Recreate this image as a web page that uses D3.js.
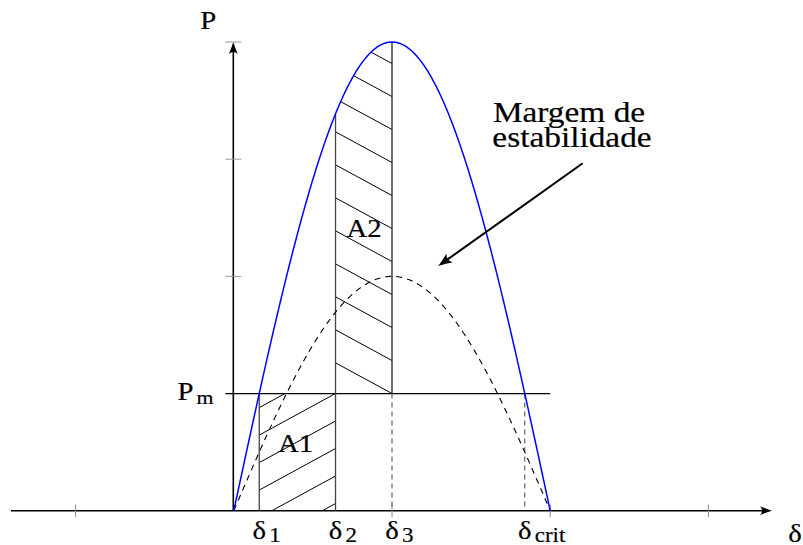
<!DOCTYPE html>
<html>
<head>
<meta charset="utf-8">
<script src="https://cdn.jsdelivr.net/npm/d3@7"></script>
<style>
  html, body { margin: 0; padding: 0; background: #fff; }
  svg { display: block; }
  text { font-family: "Liberation Serif", "Times New Roman", serif; fill: #000; stroke: #000; stroke-width: 0.2px; }
</style>
</head>
<body>
<svg id="chart" width="803" height="545"></svg>
<script>
// Power-angle curves (equal-area criterion)
const curveAmplitudes = [4, 2];          // P max of the post-fault (blue) and faulted (dashed) curves
const curveNames = ["postFault", "fault"];
const mechanicalPower = 1;                // Pm
const delta2 = 1.01;                      // clearing angle, rad
const powerTicks = [1, 2, 3, 4];
const deltaTicks = [-Math.PI / 2, Math.PI / 2, Math.PI, 3 * Math.PI / 2];
const deltaLabels = ["1", "2", "3", "crit"];
const areaLabels = ["A1", "A2"];
const noteLines = ["Margem de", "estabilidade"];

const svg = d3.select("#chart");

const x = d3.scaleLinear().domain([0, Math.PI]).range([233.8, 550.2]);
const y = d3.scaleLinear().domain([0, 4]).range([510.7, 42]);
const axisX = 233.3;

const Pmax = curveAmplitudes[0];
const delta1 = Math.asin(mechanicalPower / Pmax);
const delta3 = Math.PI / 2;
const deltaCrit = Math.PI - delta1;
const deltaMarks = [delta1, delta2, delta3, deltaCrit];

const samples = d3.range(0, 401).map(i => i / 400 * Math.PI);
const curvePoints = amp => samples.map(d => [d, amp * Math.sin(d)]);
const line = d3.line().x(d => x(d[0])).y(d => y(d[1]));

// arrow head shape (tip at origin, pointing +x)
function arrowHead(len, half) {
  return `M0,0 Q${-len * 0.45},${-half * 0.35} ${-len},${-half} Q${-len * 0.65},0 ${-len},${half} Q${-len * 0.45},${half * 0.35} 0,0Z`;
}

// ---- clip paths for hatched areas
const defs = svg.append("defs");
defs.append("clipPath").attr("id", "clipA1").append("rect")
  .attr("x", x(delta1)).attr("y", y(mechanicalPower))
  .attr("width", x(delta2) - x(delta1)).attr("height", y(0) - y(mechanicalPower));

const a2Pts = samples.filter(d => d >= delta2 && d <= delta3).map(d => [d, Pmax * Math.sin(d)]);
const a2Area = [[delta2, mechanicalPower], ...a2Pts, [delta3, mechanicalPower]];
defs.append("clipPath").attr("id", "clipA2").append("path")
  .attr("d", line(a2Area) + "Z");

// ---- hatch lines
function hatch(clipId, cx, cy, slope, spacing, x0, x1) {
  const g = svg.append("g").attr("clip-path", `url(#${clipId})`);
  const ks = d3.range(-30, 31);
  g.selectAll("line").data(ks).join("line")
    .attr("x1", x0 - 5).attr("x2", x1 + 5)
    .attr("y1", k => cy + k * spacing + slope * (x0 - 5 - cx))
    .attr("y2", k => cy + k * spacing + slope * (x1 + 5 - cx))
    .attr("stroke", "#000").attr("stroke-width", 1);
}
hatch("clipA1", x(delta2), y(mechanicalPower), -0.545, 27.5, x(delta1), x(delta2));
hatch("clipA2", x(delta3), y(mechanicalPower), 0.543, 33, x(delta2), x(delta3));

// ---- axes
const xAxisStart = 11, xAxisEnd = 772;
svg.append("line").attr("x1", xAxisStart).attr("x2", xAxisEnd - 4)
  .attr("y1", y(0)).attr("y2", y(0)).attr("stroke", "#000").attr("stroke-width", 1.6);
svg.append("path").attr("d", arrowHead(12, 4.5))
  .attr("transform", `translate(${xAxisEnd},${y(0)})`).attr("fill", "#000");

svg.append("line").attr("x1", axisX).attr("x2", axisX)
  .attr("y1", y(0)).attr("y2", y(4) + 4).attr("stroke", "#000").attr("stroke-width", 1.6);
svg.append("path").attr("d", arrowHead(12, 4.5))
  .attr("transform", `translate(${axisX},${y(4)}) rotate(-90)`).attr("fill", "#000");

// ticks
svg.append("g").selectAll("line").data(powerTicks).join("line")
  .attr("x1", axisX - 8).attr("x2", axisX + 8)
  .attr("y1", d => y(d)).attr("y2", d => y(d))
  .attr("stroke", "#999").attr("stroke-width", 1);
svg.append("g").selectAll("line").data(deltaTicks).join("line")
  .attr("x1", d => x(d)).attr("x2", d => x(d))
  .attr("y1", y(0) - 6).attr("y2", y(0) + 6.5)
  .attr("stroke", "#888").attr("stroke-width", 1);

// ---- Pm line
svg.append("line").attr("x1", axisX - 8).attr("x2", x(Math.PI))
  .attr("y1", y(mechanicalPower)).attr("y2", y(mechanicalPower))
  .attr("stroke", "#000").attr("stroke-width", 1.3);

// ---- verticals at delta marks
const vline = (d, y1, y2, color, dash, w) => svg.append("line")
  .attr("x1", x(d)).attr("x2", x(d)).attr("y1", y1).attr("y2", y2)
  .attr("stroke", color).attr("stroke-width", w || 1.3)
  .attr("stroke-dasharray", dash || null);
vline(delta1, y(mechanicalPower), y(0), "#444");
vline(delta2, y(Pmax * Math.sin(delta2)), y(0), "#444");
vline(delta3, y(Pmax), y(mechanicalPower), "#222");
vline(delta3, y(mechanicalPower), y(0), "#555", "5,4", 1.1);
vline(deltaCrit, y(mechanicalPower), y(0), "#555", "5,4", 1.1);

// ---- curves
svg.append("path").datum(curvePoints(curveAmplitudes[1]))
  .attr("d", line).attr("fill", "none").attr("stroke", "#000")
  .attr("stroke-width", 1.1).attr("stroke-dasharray", "6,5");
svg.append("path").datum(curvePoints(curveAmplitudes[0]))
  .attr("d", line).attr("fill", "none").attr("stroke", "#0000ff")
  .attr("stroke-width", 1.5);

// ---- annotation arrow
const arrowFrom = [582.7, 163.3], arrowTo = [438.3, 266];
const ang = Math.atan2(arrowTo[1] - arrowFrom[1], arrowTo[0] - arrowFrom[0]);
svg.append("line").attr("x1", arrowFrom[0]).attr("y1", arrowFrom[1])
  .attr("x2", arrowTo[0] - 8 * Math.cos(ang))
  .attr("y2", arrowTo[1] - 8 * Math.sin(ang))
  .attr("stroke", "#000").attr("stroke-width", 2);
svg.append("path").attr("d", arrowHead(14, 5.5))
  .attr("transform", `translate(${arrowTo[0]},${arrowTo[1]}) rotate(${ang * 180 / Math.PI})`).attr("fill", "#000");

// ---- text (serif, slightly widened)
const SX = 1.15;
function label(txt, px, py, size, anchor) {
  return svg.append("text")
    .attr("transform", `translate(${px},${py}) scale(${SX},1)`)
    .attr("text-anchor", anchor || "middle")
    .attr("font-size", size)
    .text(txt);
}
label("P", 208.3, 29.3, 25);
label("P", 177.5, 400, 25, "start");
label("m", 196.5, 403.5, 19, "start");
label("δ", 795, 542, 25);

deltaMarks.forEach((d, i) => {
  label("δ", x(d), 539, 25);
  label(deltaLabels[i], x(d) + 10, 541.5, 20, "start");
});

label(areaLabels[0], 295.5, 452, 25);
label(areaLabels[1], 364, 236.5, 25);

label(noteLines[0], 569, 121.7, 29);
label(noteLines[1], 572, 147, 29);
</script>
</body>
</html>
